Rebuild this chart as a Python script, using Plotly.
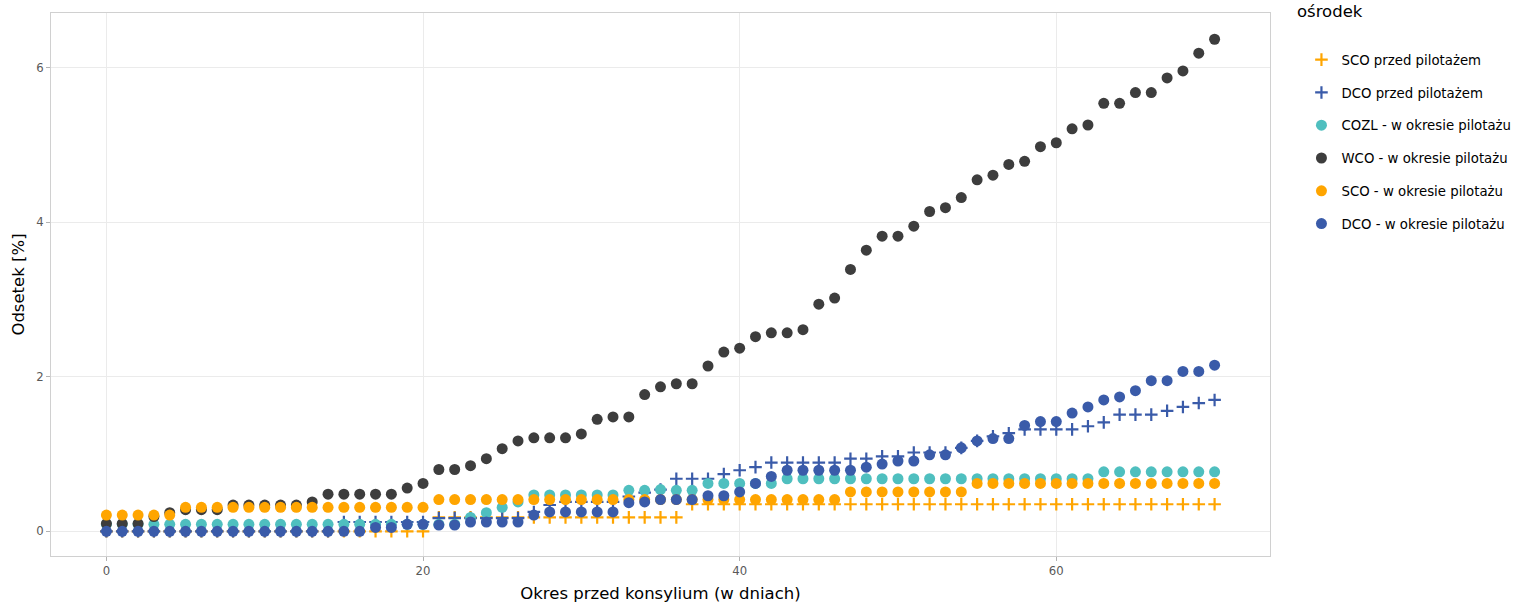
import plotly.graph_objects as go

days = list(range(71))

sco_przed = [0.0, 0.0, 0.0, 0.0, 0.0, 0.0, 0.0, 0.0, 0.0, 0.0,
             0.0, 0.0, 0.0, 0.0, 0.0, 0.0, 0.0, 0.0, 0.0, 0.0,
             0.0, 0.18, 0.18, 0.18, 0.18, 0.18, 0.18, 0.18, 0.18, 0.18,
             0.18, 0.18, 0.18, 0.18, 0.18, 0.18, 0.18, 0.35, 0.35, 0.35,
             0.35, 0.35, 0.35, 0.35, 0.35, 0.35, 0.35, 0.35, 0.35, 0.35,
             0.35, 0.35, 0.35, 0.35, 0.35, 0.35, 0.35, 0.35, 0.35, 0.35,
             0.35, 0.35, 0.35, 0.35, 0.35, 0.35, 0.35, 0.35, 0.35, 0.35,
             0.35]

dco_przed = [0.0, 0.0, 0.0, 0.0, 0.0, 0.0, 0.0, 0.0, 0.0, 0.0,
             0.0, 0.0, 0.0, 0.0, 0.0, 0.12, 0.12, 0.12, 0.12, 0.12,
             0.12, 0.17, 0.17, 0.17, 0.17, 0.17, 0.17, 0.25, 0.34, 0.38,
             0.38, 0.38, 0.38, 0.45, 0.50, 0.54, 0.68, 0.68, 0.68, 0.74,
             0.79, 0.83, 0.89, 0.89, 0.89, 0.89, 0.89, 0.94, 0.94, 0.97,
             0.97, 1.02, 1.02, 1.02, 1.08, 1.17, 1.23, 1.27, 1.32, 1.32,
             1.32, 1.32, 1.36, 1.41, 1.51, 1.51, 1.51, 1.56, 1.61, 1.66,
             1.70]

cozl_pilot = [0.09, 0.09, 0.09, 0.09, 0.09, 0.09, 0.09, 0.09, 0.09, 0.09,
              0.09, 0.09, 0.09, 0.09, 0.09, 0.09, 0.09, 0.09, 0.09, 0.09,
              0.09, 0.09, 0.09, 0.18, 0.24, 0.31, 0.38, 0.47, 0.47, 0.47,
              0.47, 0.47, 0.47, 0.53, 0.53, 0.54, 0.53, 0.53, 0.62, 0.62,
              0.62, 0.62, 0.62, 0.68, 0.68, 0.68, 0.68, 0.68, 0.68, 0.68,
              0.68, 0.68, 0.68, 0.68, 0.68, 0.68, 0.68, 0.68, 0.68, 0.68,
              0.68, 0.68, 0.68, 0.77, 0.77, 0.77, 0.77, 0.77, 0.77, 0.77,
              0.77]

wco_pilot = [0.10, 0.10, 0.10, 0.19, 0.24, 0.28, 0.28, 0.28, 0.34, 0.34,
             0.34, 0.34, 0.34, 0.38, 0.48, 0.48, 0.48, 0.48, 0.48, 0.56,
             0.62, 0.80, 0.80, 0.85, 0.94, 1.07, 1.17, 1.21, 1.21, 1.21,
             1.26, 1.45, 1.48, 1.48, 1.77, 1.87, 1.91, 1.91, 2.14, 2.32,
             2.37, 2.52, 2.57, 2.57, 2.61, 2.94, 3.02, 3.39, 3.64, 3.82,
             3.82, 3.95, 4.14, 4.19, 4.32, 4.55, 4.61, 4.75, 4.79, 4.98,
             5.03, 5.21, 5.26, 5.54, 5.54, 5.68, 5.68, 5.87, 5.96, 6.19,
             6.37]

sco_pilot = [0.21, 0.21, 0.21, 0.21, 0.21, 0.31, 0.31, 0.31, 0.31, 0.31,
             0.31, 0.31, 0.31, 0.31, 0.31, 0.31, 0.31, 0.31, 0.31, 0.31,
             0.31, 0.41, 0.41, 0.41, 0.41, 0.41, 0.41, 0.41, 0.41, 0.41,
             0.41, 0.41, 0.41, 0.41, 0.41, 0.41, 0.41, 0.41, 0.41, 0.41,
             0.41, 0.41, 0.41, 0.41, 0.41, 0.41, 0.41, 0.51, 0.51, 0.51,
             0.51, 0.51, 0.51, 0.51, 0.51, 0.62, 0.62, 0.62, 0.62, 0.62,
             0.62, 0.62, 0.62, 0.62, 0.62, 0.62, 0.62, 0.62, 0.62, 0.62,
             0.62]

dco_pilot = [0.0, 0.0, 0.0, 0.0, 0.0, 0.0, 0.0, 0.0, 0.0, 0.0,
             0.0, 0.0, 0.0, 0.0, 0.0, 0.0, 0.0, 0.05, 0.05, 0.09,
             0.09, 0.08, 0.08, 0.12, 0.12, 0.12, 0.12, 0.21, 0.25, 0.25,
             0.25, 0.25, 0.25, 0.37, 0.38, 0.41, 0.41, 0.41, 0.46, 0.46,
             0.51, 0.62, 0.71, 0.79, 0.79, 0.79, 0.79, 0.79, 0.83, 0.87,
             0.91, 0.91, 0.99, 0.99, 1.08, 1.17, 1.20, 1.20, 1.37, 1.42,
             1.42, 1.53, 1.61, 1.70, 1.74, 1.82, 1.95, 1.95, 2.07, 2.07,
             2.15]

ORANGE = "#FFA500"
BLUE = "#3A5BA9"
TEAL = "#4FBFBF"
DARK = "#3D3D3D"

series = [
    ("SCO przed pilotażem", sco_przed, ORANGE, "cross"),
    ("DCO przed pilotażem", dco_przed, BLUE, "cross"),
    ("COZL - w okresie pilotażu", cozl_pilot, TEAL, "circle"),
    ("WCO - w okresie pilotażu", wco_pilot, DARK, "circle"),
    ("SCO - w okresie pilotażu", sco_pilot, ORANGE, "circle"),
    ("DCO - w okresie pilotażu", dco_pilot, BLUE, "circle"),
]

fig = go.Figure()
for name, vals, color, kind in series:
    if kind == "cross":
        marker = dict(symbol="cross-thin-open", size=9, color=color,
                      line=dict(color=color, width=2.2))
    else:
        marker = dict(symbol="circle", size=11, color=color,
                      line=dict(width=0))
    fig.add_trace(go.Scatter(x=days, y=vals, mode="markers", name=name,
                             legendgroup=name, marker=marker))

grid = "#EBEBEB"
tick_font = dict(family="DejaVu Sans", size=11.7, color="#595959")
title_font = dict(family="DejaVu Sans", size=16.5, color="black")

fig.update_xaxes(
    range=[-3.5, 73.5], tickvals=[0, 20, 40, 60], ticktext=["0", "20", "40", "60"],
    showgrid=True, gridcolor=grid, gridwidth=1, zeroline=False, automargin=False,
    ticks="outside", ticklen=4, tickcolor="#B3B3B3", tickfont=tick_font,
    showline=True, linecolor="#D0D0D0", linewidth=1, mirror=True,
    title=dict(text="Okres przed konsylium (w dniach)", font=title_font, standoff=10),
)
fig.update_yaxes(
    range=[-0.32, 6.71], tickvals=[0, 2, 4, 6], ticktext=["0", "2", "4", "6"],
    showgrid=True, gridcolor=grid, gridwidth=1.3, zeroline=False, automargin=False,
    ticks="outside", ticklen=4, tickcolor="#B3B3B3", tickfont=tick_font,
    showline=True, linecolor="#D0D0D0", linewidth=1, mirror=True,
    title=dict(text="Odsetek [%]", font=title_font, standoff=7),
)

# legend title sits at the very top edge, as in the original
fig.add_annotation(
    text="ośrodek", xref="paper", yref="paper", x=1.0205, y=1.0239,
    xanchor="left", yanchor="top", showarrow=False,
    font=dict(family="DejaVu Sans", size=16.5, color="black"),
)

fig.update_layout(
    width=1517, height=606,
    margin=dict(l=51, r=247, t=13, b=50, autoexpand=False),
    plot_bgcolor="white", paper_bgcolor="white",
    font=dict(family="DejaVu Sans"),
    showlegend=True,
    legend=dict(x=1.0258, y=0.942, xanchor="left", yanchor="top",
                font=dict(family="DejaVu Sans", size=13.3, color="black"),
                tracegroupgap=12.5, bgcolor="rgba(0,0,0,0)"),
)

fig.write_html("out.html", config={"displayModeBar": False},
               post_script="document.body.style.margin='0';")
